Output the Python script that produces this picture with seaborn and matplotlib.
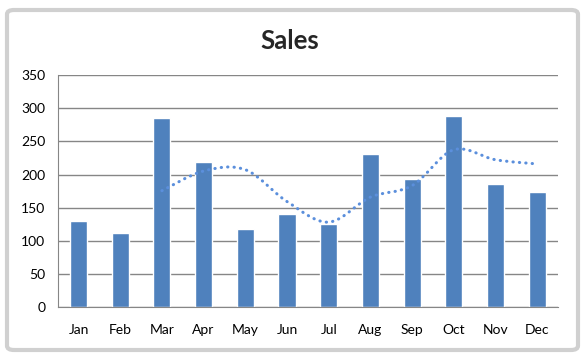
import numpy as np
import pandas as pd
import matplotlib
matplotlib.use("Agg")
import matplotlib.pyplot as plt
import seaborn as sns
from matplotlib.patches import FancyBboxPatch
from matplotlib.path import Path
from matplotlib.patches import PathPatch

months = ["Jan", "Feb", "Mar", "Apr", "May", "Jun", "Jul", "Aug", "Sep", "Oct", "Nov", "Dec"]
sales = [130, 112, 285, 219, 118, 141, 126, 231, 193, 288, 186, 174]
yticks = [0, 50, 100, 150, 200, 250, 300, 350]

BAR = "#4f81bd"
LINE = "#5b8fdc"
GRID = "#868686"

sns.set_style("white")
plt.rcParams["font.family"] = ["Lato", "DejaVu Sans"]

df = pd.DataFrame({"month": months, "sales": sales})
# 3 period moving average trendline, like excel
df["ma"] = df["sales"].rolling(3).mean()

fig = plt.figure(figsize=(5.85, 3.57), dpi=100)
fig.patch.set_facecolor("white")

# chart frame
frame = FancyBboxPatch((7 / 585, 7 / 357), 571 / 585, 340 / 357,
                       boxstyle="round,pad=0,rounding_size=0.012",
                       transform=fig.transFigure, facecolor="white",
                       edgecolor="#d0d0d0", linewidth=3, zorder=-5)
fig.patches.append(frame)

ax = fig.add_axes([57.7 / 585, 1 - 307.3 / 357, (558 - 57.7) / 585, (307.3 - 75) / 357])
ax.set_zorder(2)
ax.patch.set_alpha(0)
sns.barplot(data=df, x="month", y="sales", color=BAR, width=0.41,
            saturation=1, ax=ax, zorder=3)

# smoothed trendline (catmull-rom -> bezier)
pts = df.dropna().index.to_numpy().astype(float)
vals = df["ma"].dropna().to_numpy()
P = np.column_stack([pts, vals])
verts = [tuple(P[0])]
codes = [Path.MOVETO]
for i in range(len(P) - 1):
    p0 = P[i - 1] if i > 0 else P[i]
    p1 = P[i]
    p2 = P[i + 1]
    p3 = P[i + 2] if i + 2 < len(P) else P[i + 1]
    c1 = p1 + (p2 - p0) / 6
    c2 = p2 - (p3 - p1) / 6
    verts += [tuple(c1), tuple(c2), tuple(p2)]
    codes += [Path.CURVE4] * 3
trend = PathPatch(Path(verts, codes), facecolor="none", edgecolor=LINE,
                  linewidth=2.2, linestyle=(0, (0.1, 2.0)), capstyle="round", zorder=4)
ax.add_patch(trend)

ax.set_xlim(-0.5, 11.5)
ax.set_ylim(0, 350)
ax.set_yticks(yticks)
ax.yaxis.grid(True, color=GRID, linewidth=1, zorder=0)
ax.set_axisbelow(True)
ax.set_xlabel("")
ax.set_ylabel("")
for s in ["top", "right"]:
    ax.spines[s].set_visible(False)
ax.spines["left"].set_color(GRID)
ax.spines["bottom"].set_color(GRID)
ax.spines["left"].set_zorder(5)
ax.spines["bottom"].set_zorder(5)

ax.set_xticks(range(12))
ax.set_xticklabels(months)
ax.set_xticks(np.arange(-0.5, 12, 1), minor=True)
ax.tick_params(axis="x", which="major", length=0, pad=12, labelsize=10, colors="black")
ax.tick_params(axis="x", which="minor", length=5, color=GRID, width=1)
ax.tick_params(axis="y", length=5, color=GRID, width=1, pad=4, labelsize=10, labelcolor="black")

fig.text(290 / 585, 1 - 41 / 357, "Sales", ha="center", va="center",
         fontsize=18.5, fontweight="bold")

fig.savefig("out.png", dpi=100)
